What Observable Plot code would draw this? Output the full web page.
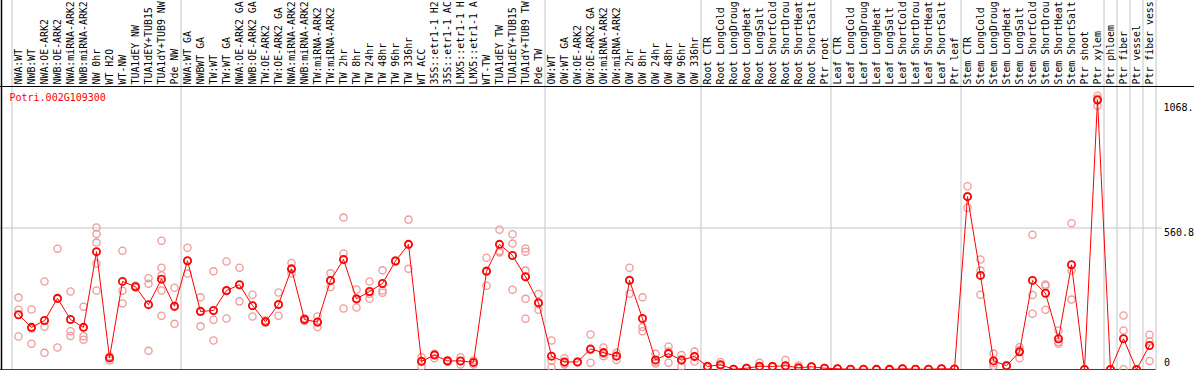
<!DOCTYPE html>
<html>
<head>
<meta charset="utf-8">
<script src="https://cdn.jsdelivr.net/npm/d3@7"></script>
<script src="https://cdn.jsdelivr.net/npm/@observablehq/plot@0.6"></script>
<style>
  html, body { margin: 0; padding: 0; background: #fff; overflow: hidden; }
  svg { overflow: hidden; display: block; }
</style>
</head>
<body>
<div id="chart"></div>
<script>
const geneTitle = "Potri.002G109300";

// category labels as shown (truncated to 14 characters in the reference)
const categories = [
  "NWA:WT","NWB:WT","NWA:OE-ARK2","NWB:OE-ARK2","NWA:miRNA-ARK2","NWB:miRNA-ARK2","NW 0hr","WT H2O","WT-NW",
  "TUA1dEY NW","TUA1dEY+TUB15","TUA1dY+TUB9 NW","Pde NW",
  "NWA:WT GA","NWBWT GA","TW:WT","TW:WT GA","NWA:OE-ARK2 GA","NWB:OE-ARK2 GA","TW:OE-ARK2","TW:OE-ARK2 GA",
  "NWA:miRNA-ARK2","NWB:miRNA-ARK2","TW:miRNA-ARK2","TW:miRNA-ARK2",
  "TW 2hr","TW 8hr","TW 24hr","TW 48hr","TW 96hr","TW 336hr",
  "WT ACC","35S::etr1-1 H2","35S::etr1-1 AC","LMX5::etr1-1 H","LMX5::etr1-1 A",
  "WT-TW","TUA1dEY TW","TUA1dEY+TUB15","TUA1dY+TUB9 TW","Pde TW",
  "OW:WT","OW:WT GA","OW:OE-ARK2","OW:OE-ARK2 GA","OW:miRNA-ARK2","OW:miRNA-ARK2",
  "OW 2hr","OW 8hr","OW 24hr","OW 48hr","OW 96hr","OW 336hr",
  "Root CTR","Root LongCold","Root LongDroug","Root LongHeat","Root LongSalt","Root ShortCold","Root ShortDrou","Root ShortHeat","Root ShortSalt","Ptr root",
  "Leaf CTR","Leaf LongCold","Leaf LongDroug","Leaf LongHeat","Leaf LongSalt","Leaf ShortCold","Leaf ShortDrou","Leaf ShortHeat","Leaf ShortSalt","Ptr leaf",
  "Stem CTR","Stem LongCold","Stem LongDroug","Stem LongHeat","Stem LongSalt","Stem ShortCold","Stem ShortDrou","Stem ShortHeat","Stem ShortSalt",
  "Ptr shoot","Ptr xylem","Ptr phloem","Ptr fiber","Ptr vessel","Ptr fiber vess"
];

const meanValues = [
  217,167,194,282,198,167,467,46,349,
  328,257,358,251,
  431,230,234,313,336,253,189,258,
  399,198,188,353,
  436,280,309,341,430,496,
  32,57,34,34,28,
  389,496,452,368,265,
  53,30,30,81,67,53,
  353,202,38,63,37,52,
  12,19,1,5,13,12,15,7,11,5,
  3,1,1,0.5,0.5,3,1,1,3,2,
  685,373,34,15,70,353,302,122,415,
  0,1068,0,122,0,95
];

const replicateValues = [
  [285,237,131],[238,102,162],[349,169,66],[479,87,280],[309,152,133],[249,132,118],
  [563,537,503,420,313],[36,52,50],[471,312,262],
  [333,325,327],[362,340,74],[510,403,373,313,213],[324,181,248],
  [483,380,430],[286,171,233],[389,197,115],[428,202,310],[403,270,336],[296,210,253],[195,185,188],[305,213,256],
  [422,380,396],[203,192,199],[210,168,186],[381,327,351],
  [602,460,242],[317,246,278],[349,300,280],[393,313,304],[430,428,432],[594,399,495],
  [12,49,35],[62,45,60],[30,38,34],[49,20,33],[36,20,28],
  [443,332,392],[554,464,470],[536,499,316],[480,467,392,366,280,201],[299,237,260],
  [115,9,35],[45,20,26],[30,32,28],[139,27,77],[87,53,62],[66,38,55],
  [403,300,356],[286,168,152],[62,24,30],[91,27,71],[57,12,42],[71,32,52],
  [12,8,15],[30,12,15],[1,1,2],[5,4,6],[27,6,8],[12,10,14],[38,4,3],[16,2,3],[11,10,12],[5,4,6],
  [3,2,4],[1,1,1],[1,1,1],[0.5,0.5,0.5],[0.5,0.5,0.5],[3,2,4],[1,1,1],[1,1,1],[3,2,4],[2,2,2],
  [726,641,688],[436,392,296],[63,15,25],[15,12,18],[88,45,77],[534,295,221],[332,337,237],[155,102,109],[580,392,277],
  [0,0,0],[1085,1074,1045],[0,0,0],[214,155,1],[0,0,0],[138,111,34]
];

// group boundaries (index of first category in each group; last = total count)
const groupStarts = [0, 13, 41, 53, 63, 73, 84, 85, 86, 87, 88];

const yMax = 1121.6;
const yTickValues = [0, 560.8, 1068];
const yTickLabels = ["0", "560.8", "1068."];

const means = meanValues.map((v, i) => ({i, v}));
const reps = replicateValues.flatMap((arr, i) => arr.map(v => ({i, v})));

const mono = "DejaVu Sans Mono";
const gridColor = "#c4c4c4";

const chart = Plot.plot({
  width: 1194,
  height: 370,
  marginTop: 86,
  marginBottom: 1,
  marginLeft: 11.5,
  marginRight: 38.5,
  x: {type: "linear", domain: [-0.5, categories.length - 0.5], axis: null},
  y: {type: "linear", domain: [0, yMax], axis: null},
  style: {fontFamily: mono, fontSize: "10px", background: "#fff", overflow: "hidden"},
  marks: [
    Plot.ruleY([yTickValues[1]], {stroke: gridColor, strokeWidth: 1, insetLeft: -11.5, insetRight: -6.5}),
    Plot.ruleX(groupStarts, {x: d => d - 0.5, stroke: gridColor, strokeWidth: 1, insetTop: -86, insetBottom: -1}),
    Plot.ruleY([yMax], {stroke: "#000", strokeWidth: 1, insetLeft: -11.5, insetRight: -38.5}),
    Plot.ruleY([0], {stroke: "#000", strokeWidth: 1.5, insetLeft: -11.5, dy: 0.5}),
    Plot.ruleX([-0.5], {stroke: "#000", strokeWidth: 1.5, dx: -10.5, insetTop: -86, insetBottom: -1}),
    Plot.dot(reps, {x: "i", y: "v", r: 3.6, stroke: "#ef9a9a", strokeWidth: 1.3, fill: "none"}),
    Plot.line(means, {x: "i", y: "v", stroke: "#ff0000", strokeWidth: 1}),
    Plot.dot(means, {x: "i", y: "v", r: 3.6, stroke: "#ff0000", strokeWidth: 1.8, fill: "none"}),
    Plot.text(categories, {
      x: (d, i) => i, text: d => d, frameAnchor: "top", rotate: -90,
      textAnchor: "start", lineAnchor: "middle", dy: -2,
      fill: "#000", fontFamily: mono, fontSize: 9.9
    }),
    Plot.text([geneTitle], {
      frameAnchor: "top-left", textAnchor: "start", lineAnchor: "middle",
      dx: -2.5, dy: 11, fill: "#ff0000", fontFamily: mono, fontSize: 10
    }),
    Plot.text([yTickValues[0]], {y: d => d, text: () => yTickLabels[0], frameAnchor: "right", textAnchor: "start", lineAnchor: "middle", dx: 8, dy: -7, fill: "#000", fontFamily: mono, fontSize: 10}),
    Plot.text([yTickValues[1]], {y: d => d, text: () => yTickLabels[1], frameAnchor: "right", textAnchor: "start", lineAnchor: "middle", dx: 8, dy: 4.5, fill: "#000", fontFamily: mono, fontSize: 10}),
    Plot.text([yTickValues[2]], {y: d => d, text: () => yTickLabels[2], frameAnchor: "right", textAnchor: "start", lineAnchor: "middle", dx: 7.5, dy: 7.5, fill: "#000", fontFamily: mono, fontSize: 10})
  ]
});
document.getElementById("chart").appendChild(chart);
</script>
</body>
</html>
